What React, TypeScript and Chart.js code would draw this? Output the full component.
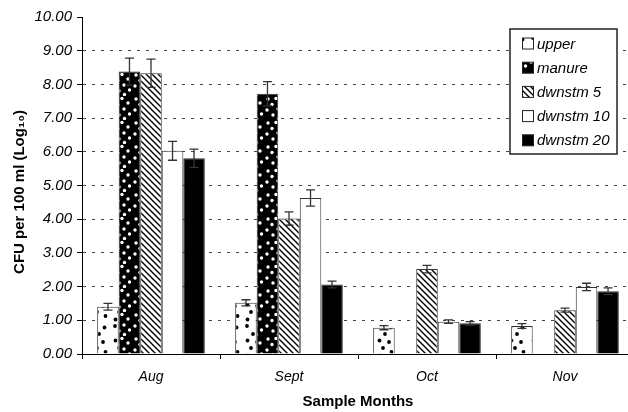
import React, { useEffect, useRef } from "react";
import { Chart, registerables } from "chart.js";

Chart.register(...registerables);

const months = ["Aug", "Sept", "Oct", "Nov"];
const seriesNames = ["upper", "manure", "dwnstm 5", "dwnstm 10", "dwnstm 20"];
const upper = [1.4, 1.52, 0.78, 0.83];
const upperErr = [0.1, 0.09, 0.06, 0.07];
const manure: (number | null)[] = [8.38, 7.72, null, null];
const manureErr = [0.4, 0.36, 0, 0];
const dwnstm5 = [8.33, 4.02, 2.52, 1.3];
const dwnstm5Err = [0.42, 0.2, 0.11, 0.06];
const dwnstm10 = [6.03, 4.63, 0.96, 1.99];
const dwnstm10Err = [0.28, 0.24, 0.05, 0.11];
const dwnstm20 = [5.81, 2.06, 0.91, 1.86];
const dwnstm20Err = [0.27, 0.1, 0.05, 0.1];
const yTicks = [0, 1, 2, 3, 4, 5, 6, 7, 8, 9, 10];
const yTitle = "CFU per 100 ml (Log₁₀)";
const xTitle = "Sample Months";

const FONT = "'Liberation Sans', Arial, Helvetica, sans-serif";

function makeTile(w: number, h: number, draw: (c: CanvasRenderingContext2D) => void) {
  const cv = document.createElement("canvas");
  cv.width = w;
  cv.height = h;
  const c = cv.getContext("2d")!;
  draw(c);
  return c.createPattern(cv, "repeat")!;
}

function dots(c: CanvasRenderingContext2D, bg: string, fg: string, pts: number[][], r: number) {
  c.fillStyle = bg;
  c.fillRect(0, 0, c.canvas.width, c.canvas.height);
  c.fillStyle = fg;
  pts.forEach(([x, y]) => {
    c.beginPath();
    c.arc(x, y, r, 0, Math.PI * 2);
    c.fill();
  });
}

export default function App() {
  const ref = useRef<HTMLCanvasElement>(null);

  useEffect(() => {
    document.body.style.margin = "0";
    document.body.style.overflow = "hidden";
    document.documentElement.style.overflow = "hidden";

    const upperPat = makeTile(22, 36, (c) =>
      dots(
        c,
        "#ffffff",
        "#000000",
        [[5, 2], [16.5, 3.5], [11, 10], [5.5, 16.5], [15, 18], [9, 24], [17.5, 28], [5.5, 31.5]],
        1.9
      )
    );
    const manurePat = makeTile(22, 24, (c) =>
      dots(
        c,
        "#000000",
        "#ffffff",
        [[4, 3], [12, 2.5], [18, 7], [8, 8.5], [3, 14], [14, 13], [19.5, 18], [9, 19], [14.5, 22.5]],
        1.7
      )
    );
    const hatchPat = makeTile(6, 6, (c) => {
      c.fillStyle = "#ffffff";
      c.fillRect(0, 0, 6, 6);
      c.strokeStyle = "#000000";
      c.lineWidth = 1.4;
      c.beginPath();
      c.moveTo(-1, -1);
      c.lineTo(7, 7);
      c.moveTo(-1, 5);
      c.lineTo(1, 7);
      c.moveTo(5, -1);
      c.lineTo(7, 1);
      c.stroke();
    });

    const values = [upper, manure, dwnstm5, dwnstm10, dwnstm20];
    const errs = [upperErr, manureErr, dwnstm5Err, dwnstm10Err, dwnstm20Err];
    const fills: any[] = [upperPat, manurePat, hatchPat, "#ffffff", "#000000"];

    const errorBars = {
      id: "errorBars",
      afterDatasetsDraw(chart: any) {
        const ctx = chart.ctx;
        const ys = chart.scales.y;
        ctx.save();
        ctx.strokeStyle = "#333333";
        ctx.lineWidth = 1.3;
        values.forEach((arr, i) => {
          const meta = chart.getDatasetMeta(i);
          arr.forEach((v, j) => {
            if (v === null || v === undefined) return;
            const e = errs[i][j];
            const x = meta.data[j].x;
            const yt = ys.getPixelForValue((v as number) + e);
            const yb = ys.getPixelForValue((v as number) - e);
            ctx.beginPath();
            ctx.moveTo(x, yt);
            ctx.lineTo(x, yb);
            ctx.moveTo(x - 4.5, yt);
            ctx.lineTo(x + 4.5, yt);
            ctx.moveTo(x - 4.5, yb);
            ctx.lineTo(x + 4.5, yb);
            ctx.stroke();
          });
        });
        ctx.restore();
      },
    };

    const extras = {
      id: "extras",
      afterDraw(chart: any) {
        const ctx = chart.ctx;
        ctx.save();
        // y axis title
        ctx.translate(20, 192);
        ctx.rotate(-Math.PI / 2);
        ctx.font = `bold 15px ${FONT}`;
        ctx.fillStyle = "#000000";
        ctx.textAlign = "center";
        ctx.textBaseline = "middle";
        ctx.fillText(yTitle, 0, 0);
        ctx.restore();

        ctx.save();
        const bx = 510, by = 29, bw = 107, bh = 125;
        ctx.fillStyle = "#ffffff";
        ctx.fillRect(bx, by, bw, bh);
        ctx.strokeStyle = "#222222";
        ctx.lineWidth = 1.5;
        ctx.strokeRect(bx, by, bw, bh);
        ctx.font = `italic 15px ${FONT}`;
        ctx.textBaseline = "middle";
        ctx.textAlign = "left";
        seriesNames.forEach((name, i) => {
          const cy = 43.5 + i * 24.2;
          ctx.fillStyle = fills[i];
          ctx.fillRect(522.5, cy - 5.5, 11, 11);
          ctx.strokeStyle = "#222222";
          ctx.lineWidth = 1;
          ctx.strokeRect(522.5, cy - 5.5, 11, 11);
          ctx.fillStyle = "#000000";
          ctx.fillText(name, 537, cy + 1);
        });
        ctx.restore();
      },
    };

    const chart = new Chart(ref.current!, {
      type: "bar",
      data: {
        labels: months,
        datasets: values.map((arr, i) => ({
          label: seriesNames[i],
          data: arr,
          backgroundColor: fills[i],
          borderColor: "#333333",
          borderWidth: 1,
          categoryPercentage: 0.78,
          barPercentage: 1.0,
        })),
      },
      options: {
        responsive: false,
        animation: false,
        devicePixelRatio: 1,
        layout: { padding: { left: 0, right: 6, top: 17, bottom: 0 } },
        plugins: {
          legend: { display: false },
          tooltip: { enabled: false },
        },
        scales: {
          x: {
            afterFit(scale: any) {
              scale.height = 58;
              scale.paddingLeft = 0;
              scale.paddingRight = 0;
            },
            grid: {
              display: true,
              drawOnChartArea: false,
              drawTicks: true,
              tickLength: 5,
              tickColor: "#000000",
              offset: true,
            },
            border: { display: true, color: "#000000", width: 1 },
            ticks: {
              color: "#000000",
              padding: 10,
              font: { family: FONT, size: 14, style: "italic" },
            },
            title: {
              display: true,
              text: xTitle,
              color: "#000000",
              font: { family: FONT, size: 15, weight: "bold" },
              padding: { top: 0, bottom: 1 },
            },
          },
          y: {
            min: 0,
            max: 10,
            afterFit(scale: any) {
              scale.width = 82;
              scale.paddingTop = 0;
              scale.paddingBottom = 0;
            },
            afterBuildTicks(scale: any) {
              scale.ticks = yTicks.map((v) => ({ value: v }));
            },
            grid: {
              color: (ctx: any) =>
                ctx.tick && ctx.tick.value > 0 && ctx.tick.value < 10 ? "#444444" : "rgba(0,0,0,0)",
              lineWidth: 1,
              tickLength: 5,
              tickColor: "#000000",
              drawTicks: true,
            },
            border: { display: true, color: "#000000", width: 1, dash: [3, 6] },
            ticks: {
              color: "#000000",
              padding: 5,
              font: { family: FONT, size: 15, style: "italic" },
              callback: (v: any) => Number(v).toFixed(2),
            },
            title: { display: false },
          },
        },
      },
      plugins: [errorBars, extras],
    } as any);

    return () => chart.destroy();
  }, []);

  return (
    <div style={{ width: 640, height: 412, overflow: "hidden" }}>
      <canvas ref={ref} width={640} height={412} style={{ display: "block" }} />
    </div>
  );
}
